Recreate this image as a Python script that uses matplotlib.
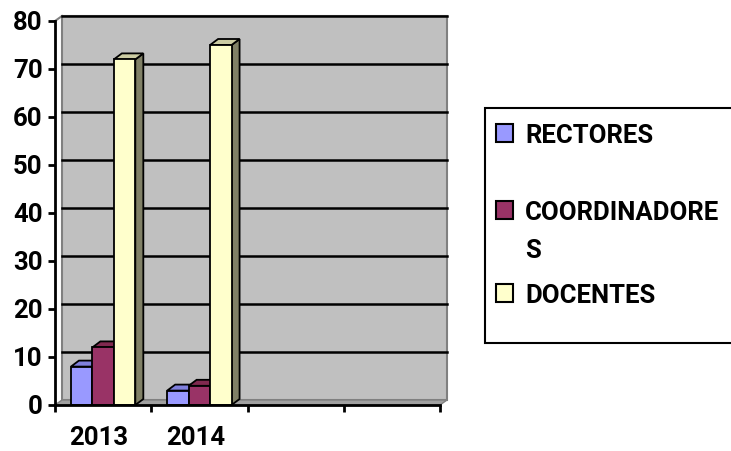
import numpy as np
import matplotlib.pyplot as plt
import matplotlib.transforms as mtransforms
from matplotlib.patches import Polygon, Rectangle

# data
categories = ['2013', '2014', '', '']
series = ['RECTORES', 'COORDINADORES', 'DOCENTES']
legend_text = ['RECTORES', 'COORDINADORE\nS', 'DOCENTES']
rectores = [8, 3]
coordinadores = [12, 4]
docentes = [72, 75]
yticks = [0, 10, 20, 30, 40, 50, 60, 70, 80]

front = ['#9999FF', '#993366', '#FFFFCC']
top_c = ['#8080DD', '#80294F', '#CCCCA3']
side_c = ['#4D4D80', '#4D1A33', '#808066']

plt.rcParams['font.family'] = ['Roboto', 'DejaVu Sans']
plt.rcParams['font.weight'] = 'bold'
FS = 18.5

W, H = 731, 451
fig = plt.figure(figsize=(W / 100, H / 100), dpi=100)
ax_l, ax_b, ax_w, ax_h = 55, 46, 385, 384
ax = fig.add_axes([ax_l / W, ax_b / H, ax_w / W, ax_h / H])
ax.set_xlim(-0.5, 3.5)
ax.set_ylim(0, 80)
ax.set_facecolor('none')

# pixel -> data conversion for the fake 3d depth
px_x = ax_w / 4.0
px_y = ax_h / 80.0
wdx, wdy = 7 / px_x, 5 / px_y     # wall offset
bdx, bdy = 8 / px_x, 6 / px_y     # bar depth

# back wall + floor
ax.add_patch(Polygon([(-0.5 + wdx, wdy), (3.5 + wdx, wdy), (3.5 + wdx, 80 + wdy), (-0.5 + wdx, 80 + wdy)],
                     closed=True, facecolor='#C0C0C0', edgecolor='#808080', lw=1.5, zorder=0, clip_on=False))
ax.add_patch(Polygon([(-0.5, 0), (3.5, 0), (3.5 + wdx, wdy), (-0.5 + wdx, wdy)],
                     closed=True, facecolor='#A0A0A0', edgecolor='#808080', lw=1, zorder=0.5, clip_on=False))
ax.plot([-0.5, -0.5 + wdx], [80, 80 + wdy], color='#808080', lw=1.5, clip_on=False, zorder=0.5)
for v in yticks[1:]:
    ax.plot([-0.5 + wdx, 3.5 + wdx], [v + wdy, v + wdy], color='black', lw=1.8, zorder=1, clip_on=False)

bw = 0.223
vals = [rectores, coordinadores, docentes]
for ci in range(len(rectores)):
    for si in range(3):
        x0 = ci + (si - 1.5) * bw
        x1 = x0 + bw
        h = vals[si][ci]
        z = 2 + ci * 3 + si
        ax.add_patch(Polygon([(x1, 0), (x1, h), (x1 + bdx, h + bdy), (x1 + bdx, bdy)], closed=True,
                             facecolor=side_c[si], edgecolor='black', lw=1.3, zorder=z, clip_on=False))
        ax.add_patch(Polygon([(x0, h), (x1, h), (x1 + bdx, h + bdy), (x0 + bdx, h + bdy)], closed=True,
                             facecolor=top_c[si], edgecolor='black', lw=1.3, zorder=z, clip_on=False))
        ax.bar(x0, h, bw, align='edge', color=front[si], edgecolor='black', lw=1.3, zorder=z + 0.1)

for s in ['top', 'right']:
    ax.spines[s].set_visible(False)
for s in ['left', 'bottom']:
    ax.spines[s].set_linewidth(2)
    ax.spines[s].set_zorder(20)

ax.set_yticks(yticks)
ax.tick_params(axis='y', direction='out', length=5, width=2, pad=4, labelsize=FS)
ax.set_xticks(range(len(categories)))
ax.set_xticklabels(categories)
ax.set_xticks(np.arange(-0.5, 4, 1), minor=True)
ax.tick_params(axis='x', which='major', length=0, pad=15, labelsize=FS)
ax.tick_params(axis='x', which='minor', direction='out', length=5, width=2)
shift = mtransforms.ScaledTranslation(-4 / 100, 0, fig.dpi_scale_trans)
for lab in ax.get_xticklabels():
    lab.set_transform(lab.get_transform() + shift)
for lab in ax.get_xticklabels() + ax.get_yticklabels():
    lab.set_fontweight('bold')

# legend drawn by hand (box runs off the right edge)
fig.patches.append(Rectangle((485 / W, 1 - 343 / H), 300 / W, 235 / H, transform=fig.transFigure,
                             facecolor='white', edgecolor='black', lw=1.5))
baselines = [143, 220, 303]
for i, name in enumerate(legend_text):
    y = baselines[i]
    fig.patches.append(Rectangle((496 / W, 1 - (y - 1) / H), 17 / W, 18 / H, transform=fig.transFigure,
                                 facecolor=front[i], edgecolor='black', lw=1.5))
    for j, line in enumerate(name.split('\n')):
        fig.text(525 / W, 1 - (y + 38 * j) / H, line, ha='left', va='baseline',
                 fontsize=FS, fontweight='bold')

fig.savefig('out.png', dpi=100)
